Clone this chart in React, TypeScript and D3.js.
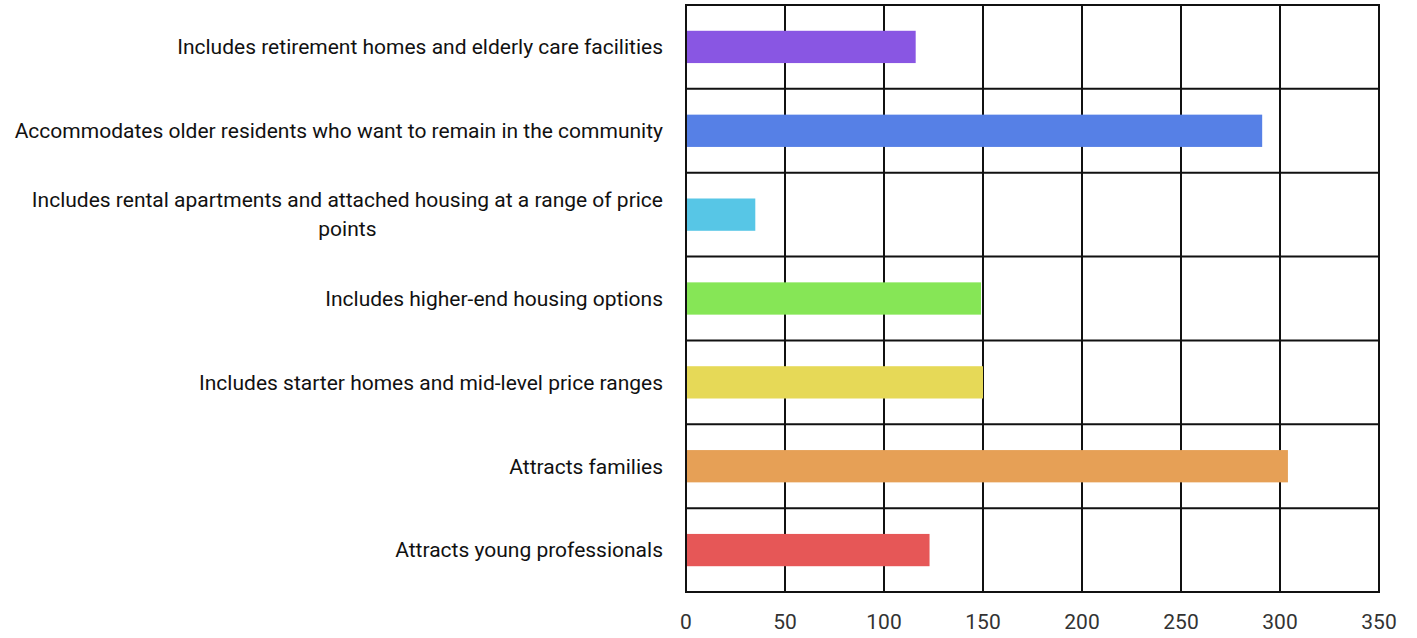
import React, { useEffect, useRef } from 'react';
import * as d3 from 'd3';

// categories top to bottom
const categories: string[][] = [
  ['Includes retirement homes and elderly care facilities'],
  ['Accommodates older residents who want to remain in the community'],
  ['Includes rental apartments and attached housing at a range of price', 'points'],
  ['Includes higher-end housing options'],
  ['Includes starter homes and mid-level price ranges'],
  ['Attracts families'],
  ['Attracts young professionals'],
];
const values: number[] = [116, 291, 35, 149, 150, 304, 123];
const colors: string[] = ['#8956E3', '#5680E6', '#57C6E6', '#86E656', '#E6D957', '#E6A056', '#E65757'];
const xTicks: number[] = [0, 50, 100, 150, 200, 250, 300, 350];

const W = 1417;
const H = 638;
const FONT = 'Roboto, "Open Sans", sans-serif';

const App: React.FC = () => {
  const svgRef = useRef<SVGSVGElement>(null);

  useEffect(() => {
    if (!svgRef.current) return;
    const svg = d3.select(svgRef.current);
    svg.selectAll('*').remove();

    const margin = { top: 5, right: 38, bottom: 46, left: 686 };
    const x = d3.scaleLinear().domain([0, 350]).range([margin.left, W - margin.right]);
    const y = d3.scaleBand<number>()
      .domain(d3.range(categories.length))
      .range([margin.top, H - margin.bottom])
      .paddingInner(0)
      .paddingOuter(0);
    const barH = y.bandwidth() * 0.385;

    const g = svg.append('g');

    // vertical grid lines
    g.selectAll('line.vg')
      .data(xTicks)
      .enter()
      .append('line')
      .attr('x1', d => x(d))
      .attr('x2', d => x(d))
      .attr('y1', margin.top)
      .attr('y2', H - margin.bottom)
      .attr('stroke', '#111')
      .attr('stroke-width', 2);

    // horizontal grid lines
    const hLines = d3.range(categories.length + 1).map(i =>
      i < categories.length ? (y(i) as number) : (y(categories.length - 1) as number) + y.bandwidth()
    );
    g.selectAll('line.hg')
      .data(hLines)
      .enter()
      .append('line')
      .attr('x1', x(0) - 1)
      .attr('x2', x(350) + 1)
      .attr('y1', d => d)
      .attr('y2', d => d)
      .attr('stroke', '#111')
      .attr('stroke-width', 2);

    // bars (drawn over the grid)
    g.selectAll('rect.bar')
      .data(values)
      .enter()
      .append('rect')
      .attr('class', 'bar')
      .attr('x', x(0) + 1)
      .attr('y', (_, i) => (y(i) as number) + y.bandwidth() / 2 - barH / 2)
      .attr('width', d => x(d) - x(0) - 1)
      .attr('height', barH)
      .attr('fill', (_, i) => colors[i]);

    // x tick labels
    g.selectAll('text.xt')
      .data(xTicks)
      .enter()
      .append('text')
      .attr('x', d => x(d))
      .attr('y', H - margin.bottom + 37)
      .attr('text-anchor', 'middle')
      .attr('font-family', FONT)
      .attr('font-size', 21)
      .attr('fill', '#333')
      .text(d => String(d));

    // category labels
    categories.forEach((lines, i) => {
      const cy = (y(i) as number) + y.bandwidth() / 2;
      const lh = 29;
      const t = g.append('text')
        .attr('font-family', FONT)
        .attr('font-size', 21)
        .attr('fill', '#111');
      if (lines.length === 1) {
        t.append('tspan')
          .attr('x', margin.left - 23)
          .attr('y', cy)
          .attr('dy', '0.35em')
          .attr('text-anchor', 'end')
          .text(lines[0]);
      } else {
        const startY = cy - ((lines.length - 1) * lh) / 2;
        const t0 = t.append('tspan')
          .attr('x', margin.left - 23)
          .attr('y', startY)
          .attr('dy', '0.35em')
          .attr('text-anchor', 'end')
          .text(lines[0]);
        const w0 = (t0.node() as SVGTextContentElement).getComputedTextLength();
        lines.slice(1).forEach((ln, k) => {
          t.append('tspan')
            .attr('x', margin.left - 23 - w0 / 2)
            .attr('y', startY + (k + 1) * lh)
            .attr('dy', '0.35em')
            .attr('text-anchor', 'middle')
            .text(ln);
        });
      }
    });
  }, []);

  return (
    <svg
      ref={svgRef}
      width={W}
      height={H}
      style={{ position: 'absolute', left: 0, top: 0, background: '#fff' }}
    />
  );
};

export default App;
